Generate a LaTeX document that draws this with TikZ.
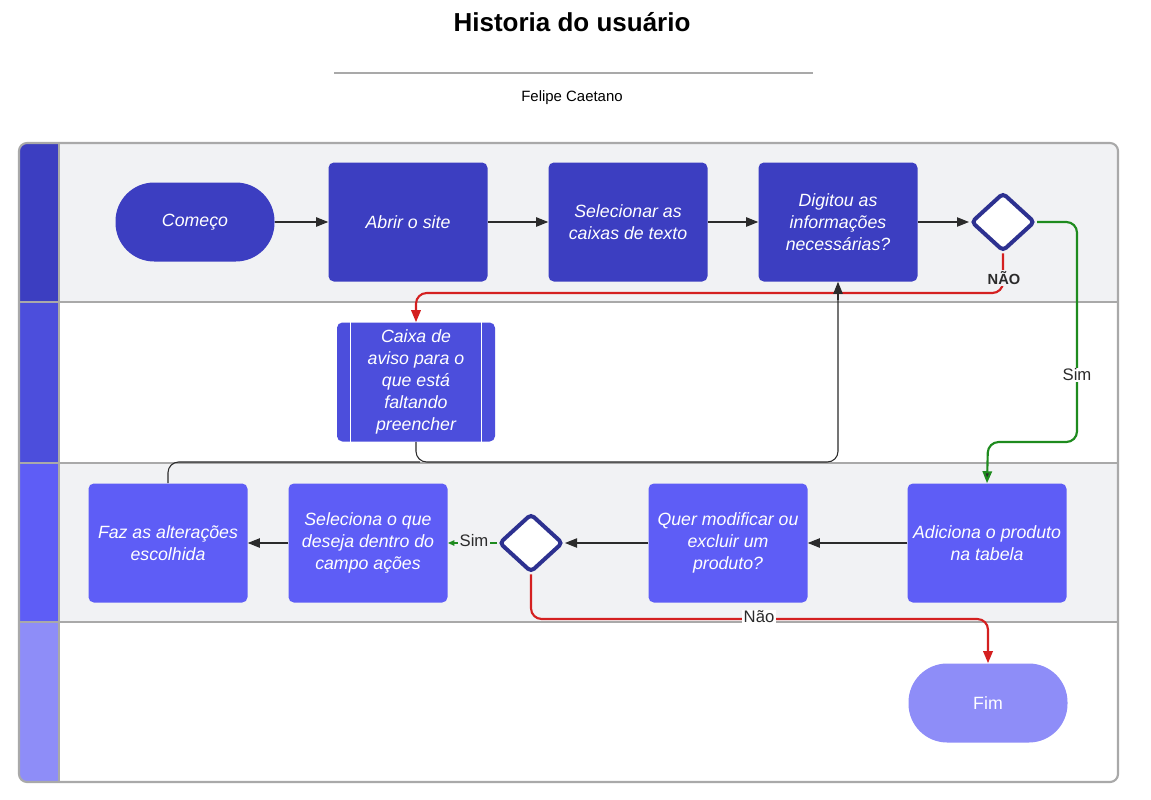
\documentclass[tikz,border=0pt]{standalone}
\usepackage{fontspec}
\setmainfont{Liberation Sans}
\usetikzlibrary{arrows.meta,shapes.geometric}
\definecolor{laneA}{HTML}{3C3EC1}
\definecolor{laneB}{HTML}{4C4EDC}
\definecolor{laneC}{HTML}{5E5DF6}
\definecolor{laneD}{HTML}{8E8DF8}
\definecolor{lanebg}{HTML}{F1F2F4}
\definecolor{framegray}{HTML}{A9A9A9}
\definecolor{diaborder}{HTML}{2D3190}
\definecolor{arrowgray}{HTML}{2B2B2B}
\definecolor{yesgreen}{HTML}{1E8B1E}
\definecolor{nored}{HTML}{D42020}
\tikzset{
  boxtext/.style={text=white, align=center, font=\fontsize{13.3}{16.5}\selectfont\itshape},
  procbox/.style={boxtext, rectangle, rounded corners=4pt, minimum width=119.25pt, minimum height=89.25pt, inner sep=2pt},
  termbox/.style={boxtext, rectangle, rounded corners=29pt, minimum width=119.25pt, minimum height=59.25pt, inner sep=2pt},
  decision/.style={diamond, draw=diaborder, line width=3pt, fill=white, rounded corners=3pt, minimum width=48pt, minimum height=44pt, inner sep=0pt},
  flow/.style={draw=arrowgray, line width=0.8pt, -{Triangle[length=9pt,width=7pt]}},
  yesflow/.style={draw=yesgreen, line width=1.6pt, rounded corners=8pt, -{Triangle[length=9pt,width=7pt,fill=arrowgray]}},
  noflow/.style={draw=nored, line width=1.6pt, rounded corners=8pt, -{Triangle[length=9pt,width=7pt,fill=nored]}},
  backflow/.style={draw=arrowgray, line width=0.8pt, rounded corners=8pt},
  edgelabel/.style={font=\fontsize{12.5}{14}\selectfont, text=arrowgray, inner sep=1pt}
}
\begin{document}
\begin{tikzpicture}[x=0.75pt,y=-0.75pt]
\useasboundingbox (0,0) rectangle (1151,799);
% title
\node[font=\fontsize{19.5}{22}\selectfont\bfseries] (title) at (572,22) {Historia do usuário};
\draw[framegray, line width=1pt] (334,73) -- (813,73);
\node[font=\fontsize{11.2}{13}\selectfont] (author) at (572,98) {Felipe Caetano};
% lanes
\begin{scope}
\clip[rounded corners=6pt] (19,143) rectangle (1118,782);
\fill[lanebg] (59,143) rectangle (1118,302);
\fill[white] (59,302) rectangle (1118,463);
\fill[lanebg] (59,463) rectangle (1118,622);
\fill[white] (59,622) rectangle (1118,782);
\fill[laneA] (19,143) rectangle (59,302);
\fill[laneB] (19,302) rectangle (59,463);
\fill[laneC] (19,463) rectangle (59,622);
\fill[laneD] (19,622) rectangle (59,782);
\end{scope}
\draw[framegray, line width=1.2pt] (19,302) -- (1118,302) (19,463) -- (1118,463) (19,622) -- (1118,622) (59,143) -- (59,782);
\draw[framegray, line width=1.6pt, rounded corners=6pt] (19,143) rectangle (1118,782);
% nodes lane 1
\node[termbox, fill=laneA] (start) at (195,222) {Começo};
\node[procbox, fill=laneA] (open) at (408,222) {Abrir o site};
\node[procbox, fill=laneA] (select) at (628,222) {Selecionar as\\caixas de texto};
\node[procbox, fill=laneA] (typed) at (838,222) {Digitou as\\informações\\necessárias?};
\node[decision] (d1) at (1003,222) {};
% lane 2
\node[procbox, fill=laneB, minimum width=118.5pt] (warn) at (416,382) {Caixa de\\aviso para o\\que está\\faltando\\preencher};
\draw[white, line width=0.8pt] ([xshift=10.5pt]warn.north west) -- ([xshift=10.5pt]warn.south west);
\draw[white, line width=0.8pt] ([xshift=-10.5pt]warn.north east) -- ([xshift=-10.5pt]warn.south east);
% lane 3
\node[procbox, fill=laneC] (change) at (168,543) {Faz as alterações\\escolhida};
\node[procbox, fill=laneC] (choose) at (368,543) {Seleciona o que\\deseja dentro do\\campo ações};
\node[decision] (d2) at (531,543) {};
\node[procbox, fill=laneC] (modify) at (728,543) {Quer modificar ou\\excluir um\\produto?};
\node[procbox, fill=laneC] (add) at (987,543) {Adiciona o produto\\na tabela};
% lane 4
\node[termbox, fill=laneD, font=\fontsize{13.3}{16.5}\selectfont] (end) at (988,703) {Fim};
% connectors
\draw[flow] (start) -- (open);
\draw[flow] (open) -- (select);
\draw[flow] (select) -- (typed);
\draw[flow] (typed) -- (d1);
\draw[yesflow] (d1.east) -- (1077,222) -- (1077,442) -- (988,442) -- (add.north);
\node[edgelabel, fill=white] (simA) at (1077,375) {Sim};
\draw[noflow] (d1.south) -- (1003,293) -- (416,293) -- (warn.north);
\node[font=\fontsize{11}{13}\selectfont\bfseries, text=arrowgray, fill=lanebg, inner sep=1pt] (naoA) at (1004,278) {NÃO};
\draw[backflow] (warn.south) -- (416,462) -- (838,462) -- (838,300);
\draw[backflow] (change.north) -- (168,462) -- (420,462);
\draw[flow] (838,300) -- (typed.south);
\draw[flow] (add) -- (modify);
\draw[flow] (modify) -- (d2);
\draw[draw=yesgreen, line width=1.6pt, -{Triangle[length=5pt,width=4pt]}] (d2.west) -- (choose.east);
\node[edgelabel, fill=lanebg] (simB) at (474,541) {Sim};
\draw[flow] (choose) -- (change);
\draw[noflow] (d2.south) -- (531,619) -- (988,619) -- (end.north);
\node[edgelabel, fill=white] (naoB) at (759,617) {Não};
\end{tikzpicture}
\end{document}
